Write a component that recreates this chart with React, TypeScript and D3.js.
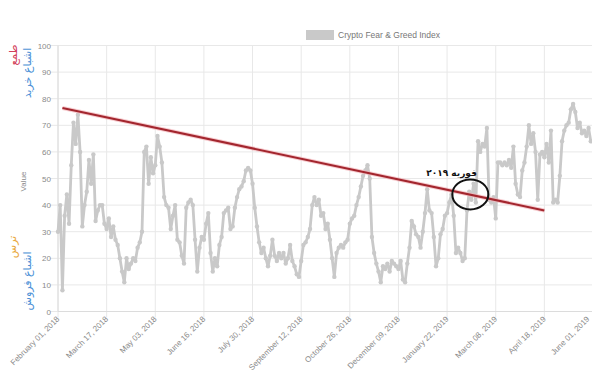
import React, { useEffect } from "react";
import * as d3 from "d3";

// Crypto Fear & Greed Index, sampled every 2 days starting Feb 01, 2018
const stepDays = 2;
const indexValues: number[] = [
  30, 40, 8, 36, 44, 33, 55, 71, 63, 74, 60, 32, 40, 45, 57, 48, 59, 34, 38, 40,
  40, 33, 31, 35, 28, 32, 27, 25, 20, 15, 11, 20, 16, 18, 20, 19, 24, 26, 30, 60,
  62, 48, 58, 52, 55, 66, 62, 56, 43, 40, 39, 31, 36, 40, 27, 26, 21, 18, 39, 41,
  42, 40, 27, 15, 24, 28, 27, 33, 37, 22, 15, 20, 17, 25, 28, 37, 38, 39, 31, 32,
  39, 43, 46, 47, 49, 53, 54, 53, 48, 39, 32, 26, 22, 24, 20, 17, 21, 27, 21, 19,
  22, 20, 22, 18, 20, 25, 19, 17, 14, 13, 19, 25, 26, 28, 31, 40, 43, 40, 42, 36,
  37, 31, 33, 27, 20, 13, 22, 24, 25, 24, 26, 27, 33, 35, 36, 40, 43, 47, 51, 53,
  55, 50, 28, 22, 18, 15, 11, 17, 16, 18, 15, 19, 18, 17, 16, 19, 12, 11, 18, 24,
  34, 32, 29, 28, 24, 30, 37, 46, 38, 37, 28, 17, 20, 29, 31, 36, 37, 41, 44, 36,
  22, 24, 22, 19, 20, 38, 45, 42, 48, 41, 64, 60, 63, 62, 69, 42, 41, 43, 35, 56,
  56, 55, 56, 55, 57, 54, 62, 48, 44, 43, 53, 56, 62, 70, 63, 67, 60, 42, 59, 60,
  58, 63, 56, 68, 41, 42, 41, 51, 64, 68, 70, 71, 76, 78, 75, 69, 71, 67, 68, 66,
  69, 64,
];

// x-axis tick labels, one every 44 days
const tickStepDays = 44;
const tickLabels: string[] = [
  "February 01, 2018", "March 17, 2018", "May 03, 2018", "June 16, 2018",
  "July 30, 2018", "September 12, 2018", "October 26, 2018", "December 09, 2018",
  "January 22, 2019", "March 08, 2019", "April 18, 2019", "June 01, 2019",
];
const yTicks: number[] = [0, 10, 20, 30, 40, 50, 60, 70, 80, 90, 100];

// hand-drawn trend line (day offset, value)
const trendDays: number[] = [4, 440];
const trendValues: number[] = [76.5, 38];

// annotation ring and label
const ringDay = 373;
const ringValue = 44;
const noteDay = 356;
const noteValue = 51;
const noteText = "فوریه ۲۰۱۹";

const legendLabel = "Crypto Fear & Greed Index";
const seriesColor = "#c9c9c9";

export default function App() {
  useEffect(() => {
    document.body.style.margin = "0";
  }, []);

  const W = 592;
  const H = 380;
  const x = d3.scaleLinear().domain([0, tickStepDays * (tickLabels.length - 1)]).range([58, 593]);
  const y = d3.scaleLinear().domain([0, 100]).range([311.5, 45.5]);

  const pts = indexValues.map((v, i) => ({ d: i * stepDays, v }));
  const line = d3
    .line<{ d: number; v: number }>()
    .x((p) => x(p.d))
    .y((p) => y(p.v));

  const trend = trendDays.map((d, i) => ({ d, v: trendValues[i] }));

  const sans = "'Liberation Sans', Arial, sans-serif";
  const fa = "'DejaVu Sans', sans-serif";

  return (
    <svg
      width={W}
      height={H}
      style={{ position: "absolute", left: 0, top: 0, background: "#fff" }}
    >
      {/* grid */}
      <g>
        {yTicks.map((t) => (
          <line key={"h" + t} x1={50} x2={W} y1={y(t)} y2={y(t)} stroke="#e8e8e8" strokeWidth={1} />
        ))}
        {tickLabels.map((_, i) => (
          <line
            key={"v" + i}
            x1={x(i * tickStepDays)}
            x2={x(i * tickStepDays)}
            y1={y(100)}
            y2={y(0) + 6}
            stroke="#e8e8e8"
            strokeWidth={1}
          />
        ))}
        <line x1={58} x2={W} y1={y(0)} y2={y(0)} stroke="#dcdcdc" strokeWidth={1} />
        <line x1={58} x2={58} y1={y(100)} y2={y(0)} stroke="#dcdcdc" strokeWidth={1} />
      </g>

      {/* y tick labels */}
      {yTicks.map((t) => (
        <text
          key={"yl" + t}
          x={51}
          y={y(t) + 3}
          textAnchor="end"
          fontSize={8}
          fill="#8a8a8a"
          fontFamily={sans}
        >
          {t}
        </text>
      ))}

      {/* x tick labels */}
      {tickLabels.map((lab, i) => {
        const tx = Math.min(x(i * tickStepDays), 588);
        return (
          <text
            key={"xl" + i}
            transform={`translate(${tx + 2},${y(0) + 8}) rotate(-45)`}
            textAnchor="end"
            fontSize={8}
            fill="#8a8a8a"
            fontFamily={sans}
          >
            {lab}
          </text>
        );
      })}

      {/* axis title */}
      <text
        transform={`translate(26,${y(50) + 3}) rotate(-90)`}
        textAnchor="middle"
        fontSize={8}
        fill="#8a8a8a"
        fontFamily={sans}
      >
        Value
      </text>

      {/* Persian side notes */}
      <text transform="translate(17,55) rotate(-90)" textAnchor="middle" fontSize={11} fill="#d2405a" fontFamily={fa}>
        طمع
      </text>
      <text transform="translate(31,73) rotate(-90)" textAnchor="middle" fontSize={11} fill="#4a8fd6" fontFamily={fa}>
        اشباع خرید
      </text>
      <text transform="translate(16,247) rotate(-90)" textAnchor="middle" fontSize={11} fill="#e9a73a" fontFamily={fa}>
        ترس
      </text>
      <text transform="translate(31,281) rotate(-90)" textAnchor="middle" fontSize={11} fill="#4a8fd6" fontFamily={fa}>
        اشباع فروش
      </text>

      {/* legend */}
      <rect x={306} y={30} width={28} height={10} fill={seriesColor} />
      <text x={338} y={38} fontSize={8.5} fill="#777" fontFamily={sans}>
        {legendLabel}
      </text>

      {/* series */}
      <path d={line(pts) || ""} fill="none" stroke={seriesColor} strokeWidth={2.8} strokeLinejoin="round" />
      {pts.map((p, i) => (
        <circle key={"p" + i} cx={x(p.d)} cy={y(p.v)} r={2.2} fill={seriesColor} />
      ))}

      {/* trend line */}
      <path d={line(trend) || ""} fill="none" stroke="#f3b6bc" strokeWidth={4} opacity={0.7} />
      <path d={line(trend) || ""} fill="none" stroke="#a3262e" strokeWidth={2} />

      {/* annotation */}
      <ellipse cx={x(ringDay)} cy={y(ringValue)} rx={18} ry={15} fill="none" stroke="#111" strokeWidth={2} />
      <text
        x={x(noteDay)}
        y={y(noteValue)}
        textAnchor="middle"
        fontSize={9}
        fontWeight="bold"
        fill="#111"
        fontFamily={fa}
        direction="rtl"
      >
        {noteText}
      </text>
    </svg>
  );
}
